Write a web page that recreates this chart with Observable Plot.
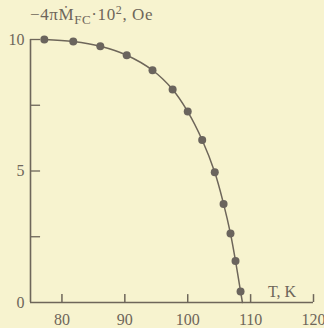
<!DOCTYPE html>
<html><head><meta charset="utf-8">
<script src="https://cdn.jsdelivr.net/npm/d3@7"></script>
<script src="https://cdn.jsdelivr.net/npm/@observablehq/plot@0.6"></script>
<style>
html,body{margin:0;padding:0;background:#f7f3cf;}
#chart{width:324px;height:328px;}
</style></head><body><div id="chart"></div>
<script>
const temperatureK = [77.2, 81.8, 86.1, 90.3, 94.4, 97.6, 100.0, 102.3, 104.3, 105.7, 106.8, 107.6, 108.4];
const magnetization = [10.0, 9.92, 9.74, 9.40, 8.83, 8.10, 7.26, 6.18, 4.95, 3.75, 2.62, 1.58, 0.42];
const curveEndT = [108.7];
const curveEndM = [0];
const xTicks = [80, 90, 100, 110, 120];
const yTicks = [0, 5, 10];
const yMinorTicks = [2.5, 5, 7.5, 10];

const ink = "#6e665a";
const font = "'Liberation Serif', serif";
const points = temperatureK.map((t, i) => ({t, m: magnetization[i]}));
const curve = points.concat(curveEndT.map((t, i) => ({t, m: curveEndM[i]})));

const plot = Plot.plot({
  width: 324, height: 328,
  marginLeft: 30, marginRight: 11, marginTop: 39, marginBottom: 26,
  style: {background: "transparent", color: ink, fontFamily: font, fontSize: "16px"},
  x: {domain: [75, 120]},
  y: {domain: [0, 10]},
  marks: [
    Plot.axisX({ticks: xTicks, tickSize: 0, tickPadding: 11, label: null, fontSize: 16}),
    Plot.axisY({ticks: yTicks, tickSize: 0, tickPadding: 6, label: null, fontSize: 16}),
    Plot.ruleY([0], {x1: 75, x2: 120, stroke: ink, strokeWidth: 1.6}),
    Plot.ruleX([75], {y1: 0, y2: 10, stroke: ink, strokeWidth: 1.6}),
    Plot.ruleX(xTicks, {y1: 0, y2: 0.3, stroke: ink, strokeWidth: 1.5}),
    Plot.ruleY(yMinorTicks, {x1: 75, x2: 76.6, stroke: ink, strokeWidth: 1.3}),
    Plot.line(curve, {x: "t", y: "m", curve: "catmull-rom", stroke: ink, strokeWidth: 1.5}),
    Plot.dot(points, {x: "t", y: "m", r: 4, fill: "#6a645d", stroke: "none"})
  ]
});
document.getElementById("chart").appendChild(plot);

const svg = d3.select(plot);
const title = svg.append("text")
  .attr("x", 30).attr("y", 20).attr("text-anchor", "start")
  .attr("fill", ink).attr("font-family", font).attr("font-size", 17)
  .attr("letter-spacing", 0.6);
title.append("tspan").text("\u22124\u03c0\u1e40");
title.append("tspan").attr("dy", 4).attr("font-size", 13).text("FC");
title.append("tspan").attr("dy", -4).text("\u00b710");
title.append("tspan").attr("dy", -6).attr("font-size", 12).text("2");
title.append("tspan").attr("dy", 6).text(", Oe");

svg.append("text")
  .attr("x", 268).attr("y", 297).attr("text-anchor", "start")
  .attr("fill", ink).attr("font-family", font).attr("font-size", 16)
  .text("T, K");
</script></body></html>
